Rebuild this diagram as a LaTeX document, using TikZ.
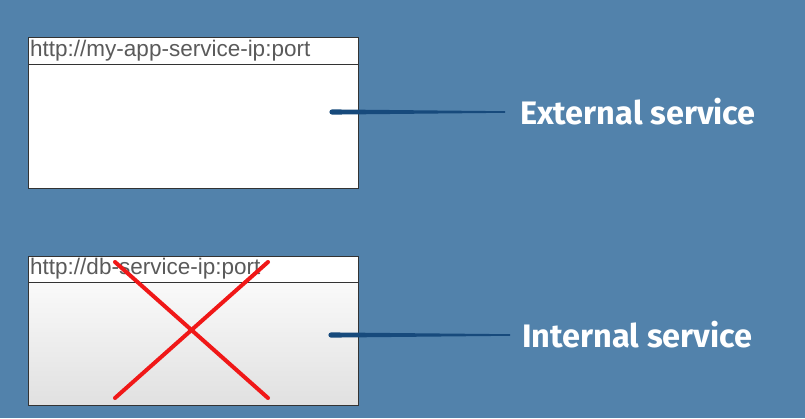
\documentclass[tikz,border=0pt]{standalone}
\usepackage{fontspec}
\setmainfont{Liberation Sans}
\newfontfamily\labelfont{Fira Sans}
\usetikzlibrary{calc}
\definecolor{bgblue}{HTML}{5282AB}
\definecolor{strokeblue}{HTML}{174A7C}
\definecolor{urlgray}{HTML}{5A5A5A}
\definecolor{xred}{HTML}{F01818}
\begin{document}
\begin{tikzpicture}[x=1pt,y=-1pt,
  browser/.style={draw=black!80,line width=0.9pt,minimum width=330pt,minimum height=151pt,inner sep=0pt,anchor=north west},
  urltext/.style={font=\fontsize{22.5}{24}\selectfont,text=urlgray,anchor=west,inner sep=0pt},
  svclabel/.style={font=\labelfont\bfseries\fontsize{32.5}{34}\selectfont,text=white,anchor=west,inner sep=0pt},
  xline/.style={draw=xred,line width=4pt,line cap=round}]
\fill[bgblue] (0,0) rectangle (805,418);
\useasboundingbox (0,0) rectangle (805,418);
% external
\node[browser,fill=white] (b1) at (28,37) {};
\draw[black!80,line width=0.9pt] ($(b1.north west)+(0,27)$) -- ($(b1.north east)+(0,27)$);
\node[urltext] (u1) at (30,51) {http://my-app-service-ip:port};
\node[svclabel] (l1) at (520,112) {External service};
\coordinate (s1) at (332,112);
% internal
\node[browser,top color=white,bottom color=black!12,minimum height=149pt] (b2) at (28,256) {};
\fill[white] ($(b2.north west)+(0.5,0.5)$) rectangle ($(b2.north east)+(-0.5,26)$);
\draw[black!80,line width=0.9pt] ($(b2.north west)+(0,26)$) -- ($(b2.north east)+(0,26)$);
\draw[black!80,line width=0.9pt] (b2.north west) rectangle (b2.south east);
\node[urltext] (u2) at (30,269) {http://db-service-ip:port};
\node[svclabel] (l2) at (522,335) {Internal service};
\coordinate (s2) at (331,335);
% connectors (tapered brush strokes)
\fill[strokeblue] (s1) ++(0,-2.6) -- ($(l1.west)+(-15,-0.8)$) -- ($(l1.west)+(-15,0.8)$) -- ($(s1)+(0,2.6)$) arc (90:270:2.6) -- cycle;
\fill[strokeblue] (s2) ++(0,-2.6) -- ($(l2.west)+(-12,-0.8)$) -- ($(l2.west)+(-12,0.8)$) -- ($(s2)+(0,2.6)$) arc (90:270:2.6) -- cycle;
% red cross
\coordinate (x1) at (115,262);
\coordinate (x2) at (268,398);
\coordinate (x3) at (268,262);
\coordinate (x4) at (115,398);
\draw[xline] (x1) -- (x2);
\draw[xline] (x3) -- (x4);
\end{tikzpicture}
\end{document}
